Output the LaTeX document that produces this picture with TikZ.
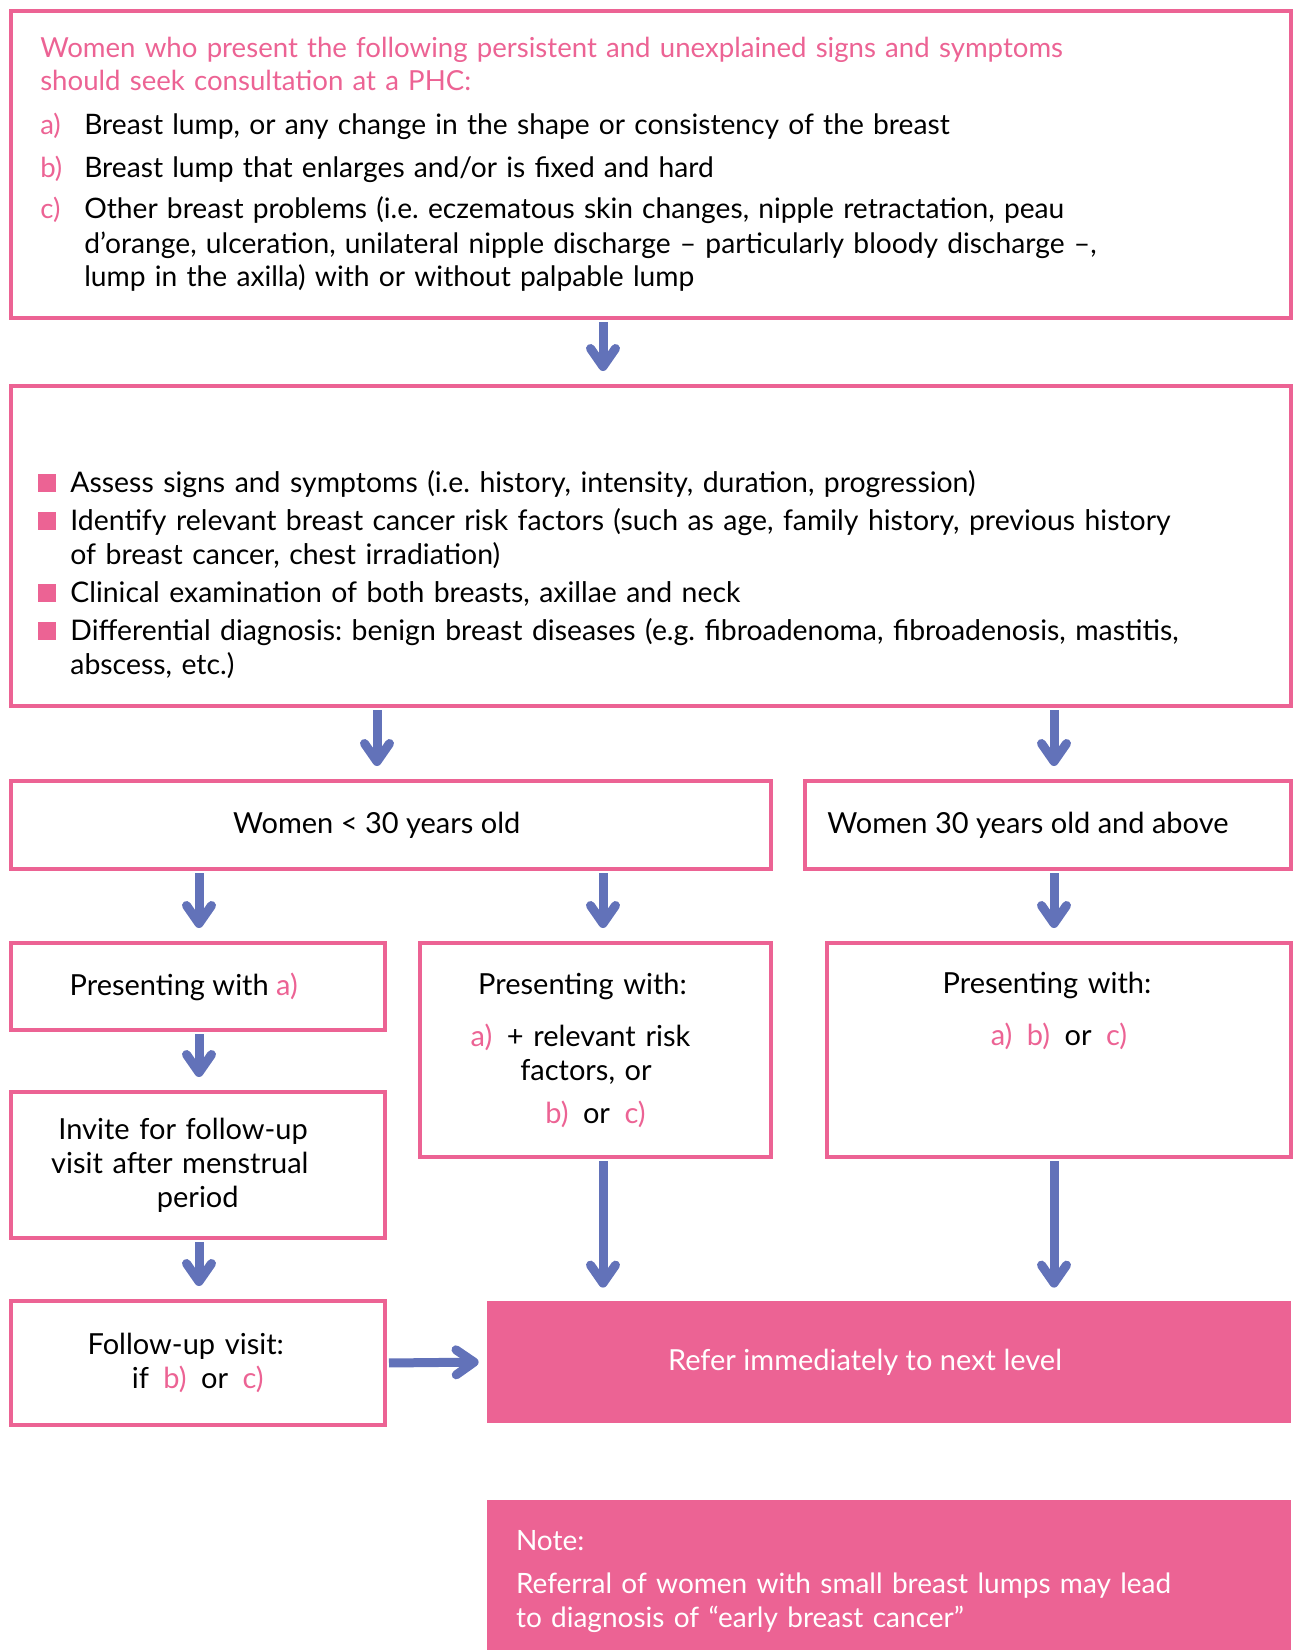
\documentclass[tikz,border=0pt]{standalone}
\usepackage{fontspec}
\setmainfont{Lato}
\frenchspacing
\usetikzlibrary{positioning,arrows.meta}
\definecolor{phcpink}{HTML}{EC6394}
\definecolor{flowblue}{HTML}{6272B9}
\newcommand{\pk}[1]{\textcolor{phcpink}{#1}}
\newcommand{\topfont}{\fontsize{13.8}{17}\selectfont}
\newcommand{\listfont}{\fontsize{14.1}{17}\selectfont}
\newcommand{\boxfont}{\fontsize{14.5}{17}\selectfont}
\newcommand{\nudge}[1]{\leftskip=0pt plus 1fil\rightskip=#1 plus 1fil\parfillskip=0pt\relax}
\newcommand{\lettered}[2]{\par\noindent\hangindent=22pt\hangafter=1\makebox[22pt][l]{\pk{#1}}{\listfont#2}}
\newcommand{\sqitem}[1]{\par\noindent\hangindent=16pt\hangafter=1\makebox[16pt][l]{\pk{\rule{9pt}{9pt}}}#1}
\tikzset{
    box/.style={draw=phcpink, line width=2pt, rectangle, inner sep=0pt, align=center},
    filledbox/.style={fill=phcpink, draw=none, rectangle, inner sep=0pt, text=white},
    flow/.style={draw=flowblue, line width=4.5pt, -{Straight Barb[round, length=9pt, width=12.5pt]}, shorten >=6.5pt, shorten <=1pt},
}

\begin{document}
\begin{tikzpicture}[x=0.5pt, y=-0.5pt, every node/.style={font=\boxfont}]
\useasboundingbox (0,0) rectangle (1293,1650);
\begin{scope}
    % Arrow columns
    \coordinate (colA) at (199,0);
    \coordinate (colL) at (377,0);
    \coordinate (colB) at (603,0);
    \coordinate (colC) at (1054,0);

    % Signs and symptoms
    \node[box, font=\topfont, minimum width=640.25pt, minimum height=153.75pt, text width=610.5pt, align=left] (signs) at (650.75,164.25) {%
        \pk{Women who present the following persistent and unexplained signs and symptoms\\
        should seek consultation at a PHC:}\par\vspace{5pt}
        \lettered{a)}{Breast lump, or any change in the shape or consistency of the breast}\par\vspace{4pt}
        \lettered{b)}{Breast lump that enlarges and/or is fixed and hard}\par\vspace{4pt}
        \lettered{c)}{Other breast problems (i.e. eczematous skin changes, nipple retractation, peau\newline
        d’orange, ulceration, unilateral nipple discharge – particularly bloody discharge –,\newline
        lump in the axilla) with or without palpable lump}\par};

    % Assessment at the PHC
    \node[box, minimum width=640.25pt, minimum height=160pt] (assess) at (650.75,546) {};
    \node[font=\fontsize{14.2}{17}\selectfont, text width=600pt, align=left, inner sep=0pt, below right=37pt and 14.75pt of assess.north west] (checklist) {%
        \sqitem{Assess signs and symptoms (i.e. history, intensity, duration, progression)}\par\vspace{2pt}
        \sqitem{Identify relevant breast cancer risk factors (such as age, family history, previous history\newline
        of breast cancer, chest irradiation)}\par\vspace{2pt}
        \sqitem{Clinical examination of both breasts, axillae and neck}\par\vspace{2pt}
        \sqitem{Differential diagnosis: benign breast diseases (e.g. fibroadenoma, fibroadenosis, mastitis,\newline
        abscess, etc.)}\par};

    % Age groups
    \node[box, minimum width=380.25pt, minimum height=44pt] (young) at (390.75,825) {Women < 30 years old\hspace*{14pt}};
    \node[box, minimum width=243pt, minimum height=44pt] (older) at (1048,825) {Women 30 years old and above\hspace*{20pt}};

    % Presentations
    \node[box, minimum width=187.25pt, minimum height=43.5pt] (lumpA) at (197.75,986.5) {Presenting with \pk{a)}\hspace*{14pt}};
    \node[box, minimum width=175.5pt, minimum height=107pt, text width=175.5pt] (riskAC) at (595.5,1050) {%
        \nudge{13pt}Presenting with:\\[9pt]
        \nudge{15pt}\pk{a)}\enspace + relevant risk\\
        \nudge{9.5pt}factors, or\\[4.5pt]
        \nudge{2pt}\pk{b)}\enspace or\enspace\pk{c)}};
    \node[box, minimum width=232pt, minimum height=107pt] (anyABC) at (1059,1050) {};
    \node[align=center, inner sep=0pt, text width=232pt, below=15.5pt of anyABC.north] (abcText) {%
        \nudge{12pt}Presenting with:\\[9pt]
        \nudge{0pt}\pk{a)}\enspace\pk{b)}\enspace or\enspace\pk{c)}};

    % Follow-up branch
    \node[box, minimum width=187.25pt, minimum height=73pt, text width=187.25pt] (invite) at (197.75,1165) {%
        \nudge{14.7pt}Invite for follow-up\\
        \nudge{17.9pt}visit after menstrual\\
        \nudge{4.7pt}period};
    \node[box, minimum width=187.25pt, minimum height=62pt, text width=187.25pt] (followup) at (197.75,1363) {%
        \nudge{12pt}Follow-up visit:\\
        \nudge{5pt}if\enspace\pk{b)}\enspace or\enspace\pk{c)}};

    % Referral and note
    \node[filledbox, minimum width=402pt, minimum height=61pt] (refer) at (889,1362) {Refer immediately to next level\hspace*{24pt}};
    \node[filledbox, font=\fontsize{14}{17}\selectfont, minimum width=402pt, minimum height=75pt, text width=373pt, align=left] (note) at (889,1575) {%
        \rule{0pt}{16.5pt}Note:\\[4.5pt]
        Referral of women with small breast lumps may lead\\
        to diagnosis of “early breast cancer”};

    % Arrows
    \draw[flow] (signs.south -| colB) -- (assess.north -| colB);
    \draw[flow] (assess.south -| colL) -- (young.north -| colL);
    \draw[flow] (assess.south -| colC) -- (older.north -| colC);
    \draw[flow] (young.south -| colA) -- (lumpA.north -| colA);
    \draw[flow] (young.south -| colB) -- (riskAC.north -| colB);
    \draw[flow] (older.south -| colC) -- (anyABC.north -| colC);
    \draw[flow] (lumpA.south -| colA) -- (invite.north -| colA);
    \draw[flow] (invite.south -| colA) -- (followup.north -| colA);
    \draw[flow] (riskAC.south -| colB) -- (refer.north -| colB);
    \draw[flow] (anyABC.south -| colC) -- (refer.north -| colC);
    \draw[flow, shorten >=4pt] (followup.east) -- (refer.west);
\end{scope}
\end{tikzpicture}
\end{document}
